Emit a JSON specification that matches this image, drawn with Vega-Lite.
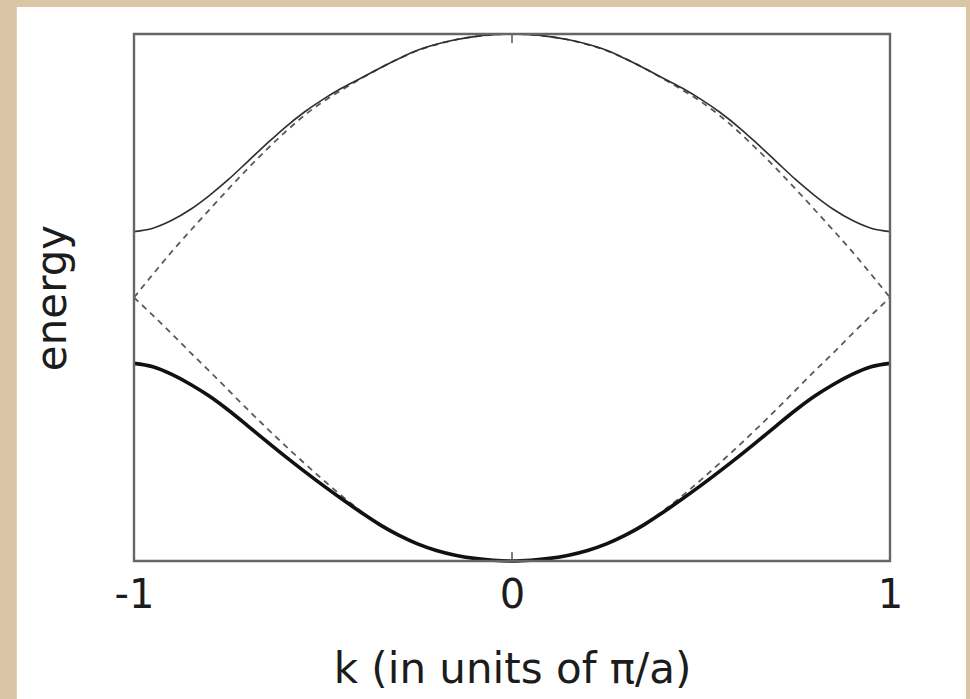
{
  "$schema": "https://vega.github.io/schema/vega-lite/v6.json",
  "width": 756,
  "height": 527,
  "autosize": "none",
  "padding": {"left": 134, "top": 34, "right": 80, "bottom": 138},
  "background": "#dac6a5",
  "config": {
    "view": {"stroke": null},
    "font": "DejaVu Sans",
    "axis": {"grid": false, "domain": false, "ticks": false, "labelColor": "#1c1c1c", "titleColor": "#1c1c1c", "titleFontWeight": "normal"}
  },
  "datasets": {
    "upperBand": [
      {"k": -1.0, "E": 1.25}, {"k": -0.95, "E": 1.263}, {"k": -0.9, "E": 1.293}, {"k": -0.85, "E": 1.335}, {"k": -0.8, "E": 1.388},
      {"k": -0.75, "E": 1.448}, {"k": -0.7, "E": 1.515}, {"k": -0.65, "E": 1.582}, {"k": -0.6, "E": 1.646}, {"k": -0.55, "E": 1.703},
      {"k": -0.5, "E": 1.752}, {"k": -0.45, "E": 1.795}, {"k": -0.4, "E": 1.832}, {"k": -0.35, "E": 1.87}, {"k": -0.3, "E": 1.906},
      {"k": -0.25, "E": 1.938}, {"k": -0.2, "E": 1.961}, {"k": -0.15, "E": 1.978}, {"k": -0.1, "E": 1.99}, {"k": -0.05, "E": 1.997},
      {"k": 0.0, "E": 2.0},
      {"k": 0.05, "E": 1.997}, {"k": 0.1, "E": 1.99}, {"k": 0.15, "E": 1.978}, {"k": 0.2, "E": 1.961}, {"k": 0.25, "E": 1.938},
      {"k": 0.3, "E": 1.906}, {"k": 0.35, "E": 1.87}, {"k": 0.4, "E": 1.832}, {"k": 0.45, "E": 1.795}, {"k": 0.5, "E": 1.752},
      {"k": 0.55, "E": 1.703}, {"k": 0.6, "E": 1.646}, {"k": 0.65, "E": 1.582}, {"k": 0.7, "E": 1.515}, {"k": 0.75, "E": 1.448},
      {"k": 0.8, "E": 1.388}, {"k": 0.85, "E": 1.335}, {"k": 0.9, "E": 1.293}, {"k": 0.95, "E": 1.263}, {"k": 1.0, "E": 1.25}
    ],
    "lowerBand": [
      {"k": -1.0, "E": 0.75}, {"k": -0.95, "E": 0.737}, {"k": -0.9, "E": 0.708}, {"k": -0.85, "E": 0.67}, {"k": -0.8, "E": 0.625},
      {"k": -0.75, "E": 0.572}, {"k": -0.7, "E": 0.514}, {"k": -0.65, "E": 0.455}, {"k": -0.6, "E": 0.397}, {"k": -0.55, "E": 0.341},
      {"k": -0.5, "E": 0.287}, {"k": -0.45, "E": 0.235}, {"k": -0.4, "E": 0.185}, {"k": -0.35, "E": 0.138}, {"k": -0.3, "E": 0.098},
      {"k": -0.25, "E": 0.065}, {"k": -0.2, "E": 0.04}, {"k": -0.15, "E": 0.022}, {"k": -0.1, "E": 0.01}, {"k": -0.05, "E": 0.003},
      {"k": 0.0, "E": 0.0},
      {"k": 0.05, "E": 0.003}, {"k": 0.1, "E": 0.01}, {"k": 0.15, "E": 0.022}, {"k": 0.2, "E": 0.04}, {"k": 0.25, "E": 0.065},
      {"k": 0.3, "E": 0.098}, {"k": 0.35, "E": 0.138}, {"k": 0.4, "E": 0.185}, {"k": 0.45, "E": 0.235}, {"k": 0.5, "E": 0.287},
      {"k": 0.55, "E": 0.341}, {"k": 0.6, "E": 0.397}, {"k": 0.65, "E": 0.455}, {"k": 0.7, "E": 0.514}, {"k": 0.75, "E": 0.572},
      {"k": 0.8, "E": 0.625}, {"k": 0.85, "E": 0.67}, {"k": 0.9, "E": 0.708}, {"k": 0.95, "E": 0.737}, {"k": 1.0, "E": 0.75}
    ],
    "freeLower": [
      {"k": -1.0, "E": 1.0}, {"k": -0.95, "E": 0.932}, {"k": -0.9, "E": 0.862}, {"k": -0.85, "E": 0.79}, {"k": -0.8, "E": 0.72},
      {"k": -0.75, "E": 0.648}, {"k": -0.7, "E": 0.576}, {"k": -0.65, "E": 0.506}, {"k": -0.6, "E": 0.438}, {"k": -0.55, "E": 0.372},
      {"k": -0.5, "E": 0.308}, {"k": -0.45, "E": 0.247}, {"k": -0.4, "E": 0.19}, {"k": -0.35, "E": 0.14}, {"k": -0.3, "E": 0.098},
      {"k": -0.25, "E": 0.065}, {"k": -0.2, "E": 0.04}, {"k": -0.15, "E": 0.022}, {"k": -0.1, "E": 0.01}, {"k": -0.05, "E": 0.003},
      {"k": 0.0, "E": 0.0},
      {"k": 0.05, "E": 0.003}, {"k": 0.1, "E": 0.01}, {"k": 0.15, "E": 0.022}, {"k": 0.2, "E": 0.04}, {"k": 0.25, "E": 0.065},
      {"k": 0.3, "E": 0.098}, {"k": 0.35, "E": 0.14}, {"k": 0.4, "E": 0.19}, {"k": 0.45, "E": 0.247}, {"k": 0.5, "E": 0.308},
      {"k": 0.55, "E": 0.372}, {"k": 0.6, "E": 0.438}, {"k": 0.65, "E": 0.506}, {"k": 0.7, "E": 0.576}, {"k": 0.75, "E": 0.648},
      {"k": 0.8, "E": 0.72}, {"k": 0.85, "E": 0.79}, {"k": 0.9, "E": 0.862}, {"k": 0.95, "E": 0.932}, {"k": 1.0, "E": 1.0}
    ],
    "freeUpper": [
      {"k": -1.0, "E": 1.0}, {"k": -0.95, "E": 1.088}, {"k": -0.9, "E": 1.174}, {"k": -0.85, "E": 1.255}, {"k": -0.8, "E": 1.334},
      {"k": -0.75, "E": 1.412}, {"k": -0.7, "E": 1.488}, {"k": -0.65, "E": 1.56}, {"k": -0.6, "E": 1.628}, {"k": -0.55, "E": 1.69},
      {"k": -0.5, "E": 1.743}, {"k": -0.45, "E": 1.788}, {"k": -0.4, "E": 1.83}, {"k": -0.35, "E": 1.87}, {"k": -0.3, "E": 1.906},
      {"k": -0.25, "E": 1.937}, {"k": -0.2, "E": 1.96}, {"k": -0.15, "E": 1.978}, {"k": -0.1, "E": 1.99}, {"k": -0.05, "E": 1.997},
      {"k": 0.0, "E": 2.0},
      {"k": 0.05, "E": 1.997}, {"k": 0.1, "E": 1.99}, {"k": 0.15, "E": 1.978}, {"k": 0.2, "E": 1.96}, {"k": 0.25, "E": 1.937},
      {"k": 0.3, "E": 1.906}, {"k": 0.35, "E": 1.87}, {"k": 0.4, "E": 1.83}, {"k": 0.45, "E": 1.788}, {"k": 0.5, "E": 1.743},
      {"k": 0.55, "E": 1.69}, {"k": 0.6, "E": 1.628}, {"k": 0.65, "E": 1.56}, {"k": 0.7, "E": 1.488}, {"k": 0.75, "E": 1.412},
      {"k": 0.8, "E": 1.334}, {"k": 0.85, "E": 1.255}, {"k": 0.9, "E": 1.174}, {"k": 0.95, "E": 1.088}, {"k": 1.0, "E": 1.0}
    ],
    "panel": [{"left": -1.31, "right": 1.201, "bottom": -0.6, "top": 2.1025}],
    "frame": [{"left": -1, "right": 1, "bottom": 0, "top": 2}],
    "centerTicks": [{"k": 0, "E": 0, "E2": 0.034}, {"k": 0, "E": 2, "E2": 1.966}]
  },
  "layer": [
    {
      "data": {"name": "panel"},
      "mark": {"type": "rect", "color": "#ffffff", "clip": false},
      "encoding": {
        "x": {
          "field": "left", "type": "quantitative",
          "scale": {"domain": [-1, 1], "nice": false, "zero": false},
          "axis": {
            "zindex": 2,
            "values": [-1, 0, 1],
            "labelExpr": "toString(datum.value)",
            "labelFontSize": 40,
            "labelPadding": 14,
            "labelFlush": false,
            "title": "k (in units of π/a)",
            "titleFontSize": 42,
            "titlePadding": 34
          }
        },
        "x2": {"field": "right"},
        "y": {
          "field": "bottom", "type": "quantitative",
          "scale": {"domain": [0, 2], "nice": false, "zero": false},
          "axis": {"zindex": 2, "labels": false, "title": "energy", "titleFontSize": 42, "titlePadding": 60}
        },
        "y2": {"field": "top"}
      }
    },
    {
      "data": {"name": "freeLower"},
      "mark": {"type": "line", "interpolate": "monotone", "color": "#5a5a5a", "strokeWidth": 1.8, "strokeDash": [6, 5]},
      "encoding": {
        "x": {"field": "k", "type": "quantitative"},
        "y": {"field": "E", "type": "quantitative"}
      }
    },
    {
      "data": {"name": "freeUpper"},
      "mark": {"type": "line", "interpolate": "monotone", "color": "#5a5a5a", "strokeWidth": 1.8, "strokeDash": [6, 5]},
      "encoding": {
        "x": {"field": "k", "type": "quantitative"},
        "y": {"field": "E", "type": "quantitative"}
      }
    },
    {
      "data": {"name": "upperBand"},
      "mark": {"type": "line", "interpolate": "monotone", "color": "#2e2e2e", "strokeWidth": 1.6},
      "encoding": {
        "x": {"field": "k", "type": "quantitative"},
        "y": {"field": "E", "type": "quantitative"}
      }
    },
    {
      "data": {"name": "lowerBand"},
      "mark": {"type": "line", "interpolate": "monotone", "color": "#111111", "strokeWidth": 3.6},
      "encoding": {
        "x": {"field": "k", "type": "quantitative"},
        "y": {"field": "E", "type": "quantitative"}
      }
    },
    {
      "data": {"name": "centerTicks"},
      "mark": {"type": "rule", "color": "#555555", "strokeWidth": 1.5},
      "encoding": {
        "x": {"field": "k", "type": "quantitative"},
        "y": {"field": "E", "type": "quantitative"},
        "y2": {"field": "E2"}
      }
    },
    {
      "data": {"name": "frame"},
      "mark": {"type": "rect", "fill": "transparent", "stroke": "#666666", "strokeWidth": 2.4},
      "encoding": {
        "x": {"field": "left", "type": "quantitative"},
        "x2": {"field": "right"},
        "y": {"field": "bottom", "type": "quantitative"},
        "y2": {"field": "top"}
      }
    }
  ]
}
